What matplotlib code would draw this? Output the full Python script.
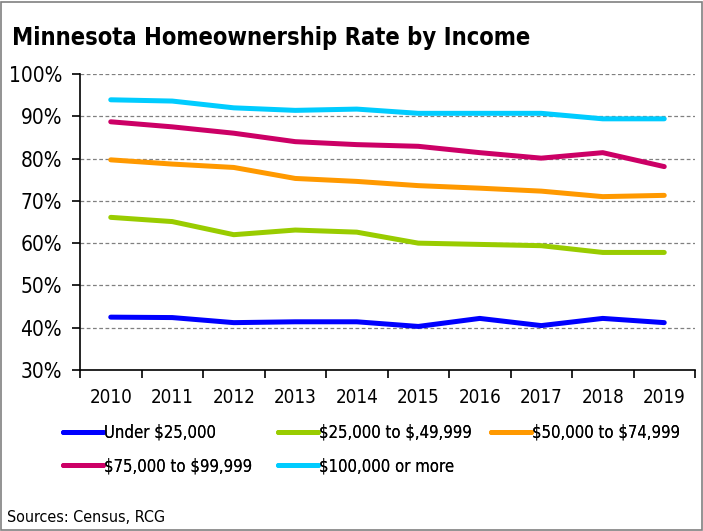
import matplotlib.pyplot as plt
from matplotlib.patches import Rectangle

plt.rcParams['font.family'] = ['DejaVu Sans']
plt.rcParams['font.stretch'] = 'condensed'
plt.rcParams['text.parse_math'] = False

years = ['2010', '2011', '2012', '2013', '2014', '2015', '2016', '2017', '2018', '2019']
under_25k = [42.5, 42.4, 41.2, 41.4, 41.4, 40.3, 42.2, 40.5, 42.2, 41.2]
k25_to_50k = [66.1, 65.1, 62.0, 63.1, 62.6, 60.0, 59.7, 59.4, 57.8, 57.8]
k50_to_75k = [79.7, 78.7, 77.9, 75.3, 74.6, 73.6, 73.0, 72.3, 71.0, 71.3]
k75_to_100k = [88.7, 87.5, 86.0, 84.0, 83.3, 82.9, 81.4, 80.1, 81.4, 78.1]
over_100k = [93.9, 93.6, 92.0, 91.4, 91.7, 90.7, 90.7, 90.7, 89.4, 89.4]

series = [
    ('Under $25,000', under_25k, '#0000FF'),
    ('$25,000 to $,49,999', k25_to_50k, '#99CC00'),
    ('$50,000 to $74,999', k50_to_75k, '#FF9900'),
    ('$75,000 to $99,999', k75_to_100k, '#CC0066'),
    ('$100,000 or more', over_100k, '#00CCFF'),
]

fig = plt.figure(figsize=(7.03, 5.31), dpi=100)
fig.patches.append(Rectangle((0.002, 0.002), 0.996, 0.995, transform=fig.transFigure,
                             fill=False, edgecolor='#808080', linewidth=1.2))

ax = fig.add_axes([80 / 703, (531 - 370) / 531, 615 / 703, 296 / 531])

x = list(range(len(years)))
lines = []
for name, vals, col in series:
    ln, = ax.plot(x, vals, color=col, linewidth=3.6, label=name, solid_capstyle='round')
    lines.append(ln)

ax.set_xlim(-0.5, len(years) - 0.5)
ax.set_ylim(30, 100)
ax.set_yticks(range(30, 101, 10))
ax.set_yticklabels([f'{v}%' for v in range(30, 101, 10)], fontsize=15)
for v in range(40, 101, 10):
    ax.axhline(v, color='#808080', linestyle=(0, (3, 2)), linewidth=0.9, zorder=0)

# category labels centred, ticks between categories
ax.set_xticks([i - 0.5 for i in range(len(years) + 1)])
ax.set_xticklabels([])
ax.set_xticks(x, minor=True)
ax.set_xticklabels(years, minor=True, fontsize=13.5)
ax.tick_params(axis='x', which='minor', length=0, pad=13)
ax.tick_params(axis='x', which='major', length=6, width=1.2, direction='out')
ax.tick_params(axis='y', length=6, width=1.2, direction='out', pad=7)

for s in ['top', 'right']:
    ax.spines[s].set_visible(False)
for s in ['left', 'bottom']:
    ax.spines[s].set_linewidth(1.2)

fig.text(12 / 703, 1 - 38 / 531, 'Minnesota Homeownership Rate by Income',
         fontsize=17, fontweight='bold', va='center', ha='left')

# legend laid out as three columns of entries
columns = [[0, 3], [1, 4], [2]]
col_x = [63, 278, 491]
for idx, cx in zip(columns, col_x):
    leg = fig.legend([lines[i] for i in idx], [series[i][0] for i in idx],
                     loc='upper left', bbox_to_anchor=(cx / 703, 1 - 424 / 531),
                     frameon=False, fontsize=12, handlelength=2.4, handletextpad=0.05,
                     labelspacing=0.9, borderpad=0, borderaxespad=0)
    fig.add_artist(leg)

fig.text(7 / 703, 1 - 518 / 531, 'Sources: Census, RCG', fontsize=11.5, va='center', ha='left')

fig.savefig('out.png', dpi=100)
